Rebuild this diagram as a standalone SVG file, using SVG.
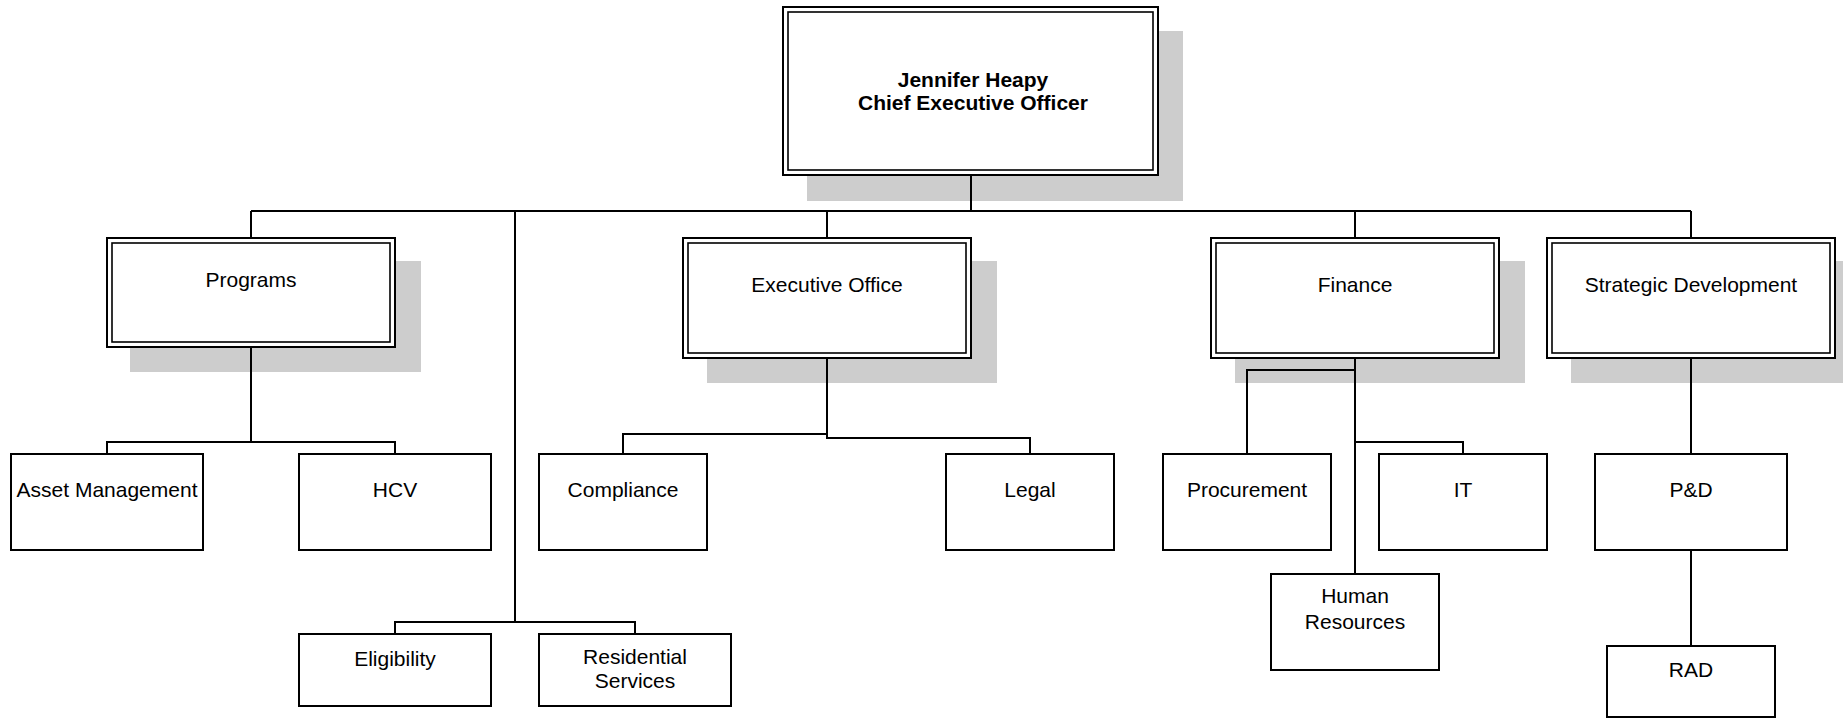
<svg xmlns="http://www.w3.org/2000/svg" width="1843" height="718" viewBox="0 0 1843 718">
  <style>
    .shadow { fill: #cdcdcd; stroke: none; }
    .outer { fill: #ffffff; stroke: #000000; stroke-width: 2; }
    .inner { fill: none; stroke: #000000; stroke-width: 1.6; }
    .box { fill: #ffffff; stroke: #000000; stroke-width: 2; }
    .label { font-family: "Liberation Sans", Arial, sans-serif; font-size: 21px; fill: #000000; text-anchor: middle; }
    .title { font-weight: bold; }
    .wire { fill: none; stroke: #000000; stroke-width: 2; }
  </style>
  <rect width="1843" height="718" fill="#ffffff"/>

  <!-- Chief Executive Officer -->
  <g id="ceo">
    <rect class="shadow" x="807" y="31" width="376" height="170"/>
    <rect class="outer" x="783" y="7" width="375" height="168"/>
    <rect class="inner" x="788" y="12" width="365" height="158"/>
    <text class="label title" x="973" y="87">Jennifer Heapy</text>
    <text class="label title" x="973" y="110">Chief Executive Officer</text>
  </g>

  <!-- Department heads -->
  <g id="programs">
    <rect class="shadow" x="130" y="261" width="291" height="111"/>
    <rect class="outer" x="107" y="238" width="288" height="109"/>
    <rect class="inner" x="112" y="243" width="278" height="99"/>
    <text class="label" x="251" y="287">Programs</text>
  </g>
  <g id="executive-office">
    <rect class="shadow" x="707" y="261" width="290" height="122"/>
    <rect class="outer" x="683" y="238" width="288" height="120"/>
    <rect class="inner" x="688" y="243" width="278" height="110"/>
    <text class="label" x="827" y="292">Executive Office</text>
  </g>
  <g id="finance">
    <rect class="shadow" x="1235" y="261" width="290" height="122"/>
    <rect class="outer" x="1211" y="238" width="288" height="120"/>
    <rect class="inner" x="1216" y="243" width="278" height="110"/>
    <text class="label" x="1355" y="292">Finance</text>
  </g>
  <g id="strategic-development">
    <rect class="shadow" x="1571" y="261" width="290" height="122"/>
    <rect class="outer" x="1547" y="238" width="288" height="120"/>
    <rect class="inner" x="1552" y="243" width="278" height="110"/>
    <text class="label" x="1691" y="292">Strategic Development</text>
  </g>

  <!-- Units -->
  <g id="asset-management">
    <rect class="box" x="11" y="454" width="192" height="96"/>
    <text class="label" x="107" y="497">Asset Management</text>
  </g>
  <g id="hcv">
    <rect class="box" x="299" y="454" width="192" height="96"/>
    <text class="label" x="395" y="497">HCV</text>
  </g>
  <g id="compliance">
    <rect class="box" x="539" y="454" width="168" height="96"/>
    <text class="label" x="623" y="497">Compliance</text>
  </g>
  <g id="legal">
    <rect class="box" x="946" y="454" width="168" height="96"/>
    <text class="label" x="1030" y="497">Legal</text>
  </g>
  <g id="procurement">
    <rect class="box" x="1163" y="454" width="168" height="96"/>
    <text class="label" x="1247" y="497">Procurement</text>
  </g>
  <g id="it">
    <rect class="box" x="1379" y="454" width="168" height="96"/>
    <text class="label" x="1463" y="497">IT</text>
  </g>
  <g id="pd">
    <rect class="box" x="1595" y="454" width="192" height="96"/>
    <text class="label" x="1691" y="497">P&amp;D</text>
  </g>
  <g id="human-resources">
    <rect class="box" x="1271" y="574" width="168" height="96"/>
    <text class="label" x="1355" y="603">Human</text>
    <text class="label" x="1355" y="629">Resources</text>
  </g>
  <g id="rad">
    <rect class="box" x="1607" y="646" width="168" height="71"/>
    <text class="label" x="1691" y="677">RAD</text>
  </g>
  <g id="eligibility">
    <rect class="box" x="299" y="634" width="192" height="72"/>
    <text class="label" x="395" y="666">Eligibility</text>
  </g>
  <g id="residential-services">
    <rect class="box" x="539" y="634" width="192" height="72"/>
    <text class="label" x="635" y="664">Residential</text>
    <text class="label" x="635" y="688">Services</text>
  </g>

  <!-- Reporting lines -->
  <g id="connectors" class="wire">
    <path d="M971,175 V211"/>
    <path d="M251,211 H1691"/>
    <path d="M251,211 V238"/>
    <path d="M827,211 V238"/>
    <path d="M1355,211 V238"/>
    <path d="M1691,211 V238"/>
    <path d="M515,211 V622"/>
    <path d="M395,634 V622 H635 V634"/>
    <path d="M251,347 V442"/>
    <path d="M107,454 V442 H395 V454"/>
    <path d="M827,358 V434 H623 V454"/>
    <path d="M827,434 V438 H1030 V454"/>
    <path d="M1355,358 V574"/>
    <path d="M1355,370 H1247 V454"/>
    <path d="M1355,442 H1463 V454"/>
    <path d="M1691,358 V454"/>
    <path d="M1691,550 V646"/>
  </g>
</svg>
